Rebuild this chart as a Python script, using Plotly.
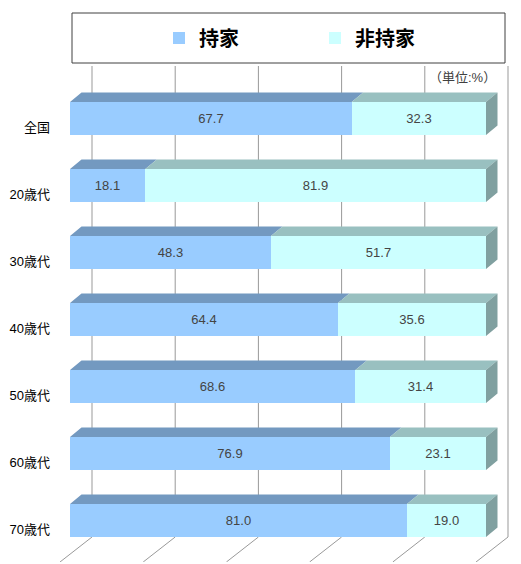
import plotly.graph_objects as go

# data
categories = ["全国", "20歳代", "30歳代", "40歳代", "50歳代", "60歳代", "70歳代"]
owned = [67.7, 18.1, 48.3, 64.4, 68.6, 76.9, 81.0]
rented = [32.3, 81.9, 51.7, 35.6, 31.4, 23.1, 19.0]
grid_ticks = [0, 20, 40, 60, 80, 100]

# page geometry (pixels); the page body adds an 8px offset
OFF = 8
W, H = 521 - OFF, 564 - OFF
L, R, T, B = 60 - OFF, 5, 66 - OFF, 2
PX_PCT = 4.16            # pixels per percent
X0 = 70 - OFF            # pixel of 0% on the bar fronts
ROW = 67                 # pixels per category
Y0 = 118.5 - OFF         # pixel centre of first bar

bar_w = 33 / ROW
dx, dy = 11.5 / PX_PCT, 9.5 / ROW          # bar depth
wall_dx = 22 / PX_PCT                       # back wall offset
floor_dx = -10 / PX_PCT                     # front floor edge offset
wall_bottom = (537 - OFF - Y0) / ROW
floor_front = (H - B - Y0) / ROW

col_own, col_own_top = "#99CCFF", "#7399C0"
col_rent, col_rent_top, col_side = "#CCFFFF", "#99C0C0", "#80A0A0"

FONT = "Liberation Sans, Arial, Noto Sans CJK JP, sans-serif"

ypos = list(range(len(categories)))

fig = go.Figure()
fig.add_bar(name="持家", y=ypos, x=owned, orientation="h", width=bar_w,
            marker=dict(color=col_own, line_width=0),
            texttemplate="%{x:.1f}", textposition="inside",
            insidetextanchor="middle", textangle=0)
fig.add_bar(name="非持家", y=ypos, x=rented, orientation="h", width=bar_w,
            marker=dict(color=col_rent, line_width=0),
            texttemplate="%{x:.1f}", textposition="inside",
            insidetextanchor="middle", textangle=0)


def faces(kind):
    xs, ys = [], []
    for i, a in enumerate(owned):
        top = i - bar_w / 2
        bot = i + bar_w / 2
        total = a + rented[i]
        if kind == "own":
            px_ = [0, a, a + dx, dx, 0]
            py_ = [top, top, top - dy, top - dy, top]
        elif kind == "rent":
            px_ = [a, total, total + dx, a + dx, a]
            py_ = [top, top, top - dy, top - dy, top]
        else:
            px_ = [total, total, total + dx, total + dx, total]
            py_ = [top, bot, bot - dy, top - dy, top]
        xs += px_ + [None]
        ys += py_ + [None]
    return xs, ys


for kind, col in [("own", col_own_top), ("rent", col_rent_top), ("side", col_side)]:
    fx, fy = faces(kind)
    fig.add_scatter(x=fx, y=fy, mode="lines", fill="toself", fillcolor=col,
                    line=dict(width=0), showlegend=False, hoverinfo="skip")

# back wall gridlines and floor lines
shapes = []
for v in grid_ticks:
    shapes.append(dict(type="line", xref="x", yref="y", layer="below",
                       x0=v + wall_dx, x1=v + wall_dx,
                       y0=(T - Y0) / ROW, y1=wall_bottom,
                       line=dict(color="#999999", width=1)))
    shapes.append(dict(type="line", xref="x", yref="y", layer="below",
                       x0=v + wall_dx, x1=v + floor_dx,
                       y0=wall_bottom, y1=floor_front,
                       line=dict(color="#999999", width=1)))

pw, ph = W - L - R, H - T - B


def pxx(p):
    return (p - OFF - L) / pw


def pxy(p):
    return 1 - (p - OFF - T) / ph


# legend frame
shapes.append(dict(type="rect", xref="paper", yref="paper",
                   x0=pxx(72), x1=pxx(505), y0=pxy(63), y1=pxy(13),
                   line=dict(color="#404040", width=1), fillcolor="white"))

fig.update_layout(
    width=W, height=H,
    margin=dict(l=L, r=R, t=T, b=B, autoexpand=False),
    plot_bgcolor="white", paper_bgcolor="white",
    barmode="stack", bargap=0,
    font=dict(family=FONT, size=13, color="black"),
    shapes=shapes,
    xaxis=dict(range=[(L - X0) / PX_PCT, (W - R - X0) / PX_PCT], visible=False,
               fixedrange=True, automargin=False),
    yaxis=dict(range=[(H - B - Y0) / ROW, (T - Y0) / ROW], showgrid=False, zeroline=False,
               tickvals=[i + 9 / ROW for i in ypos], ticktext=categories, ticks="",
               ticklabelstandoff=9, tickfont=dict(size=13), automargin=False),
    showlegend=True,
    legend=dict(orientation="h", x=pxx(159), y=pxy(38),
                xanchor="left", yanchor="middle", itemwidth=30,
                entrywidth=111, entrywidthmode="pixels", traceorder="normal",
                font=dict(family="Noto Sans CJK JP, sans-serif", size=20,
                          color="black", weight="bold"),
                bgcolor="rgba(0,0,0,0)"),
    annotations=[dict(text="（単位:%）", xref="paper", yref="paper",
                      x=pxx(498), y=pxy(78), xanchor="right",
                      yanchor="middle", showarrow=False,
                      font=dict(size=13, color="#404040"))],
)

fig.write_html("out.html")
